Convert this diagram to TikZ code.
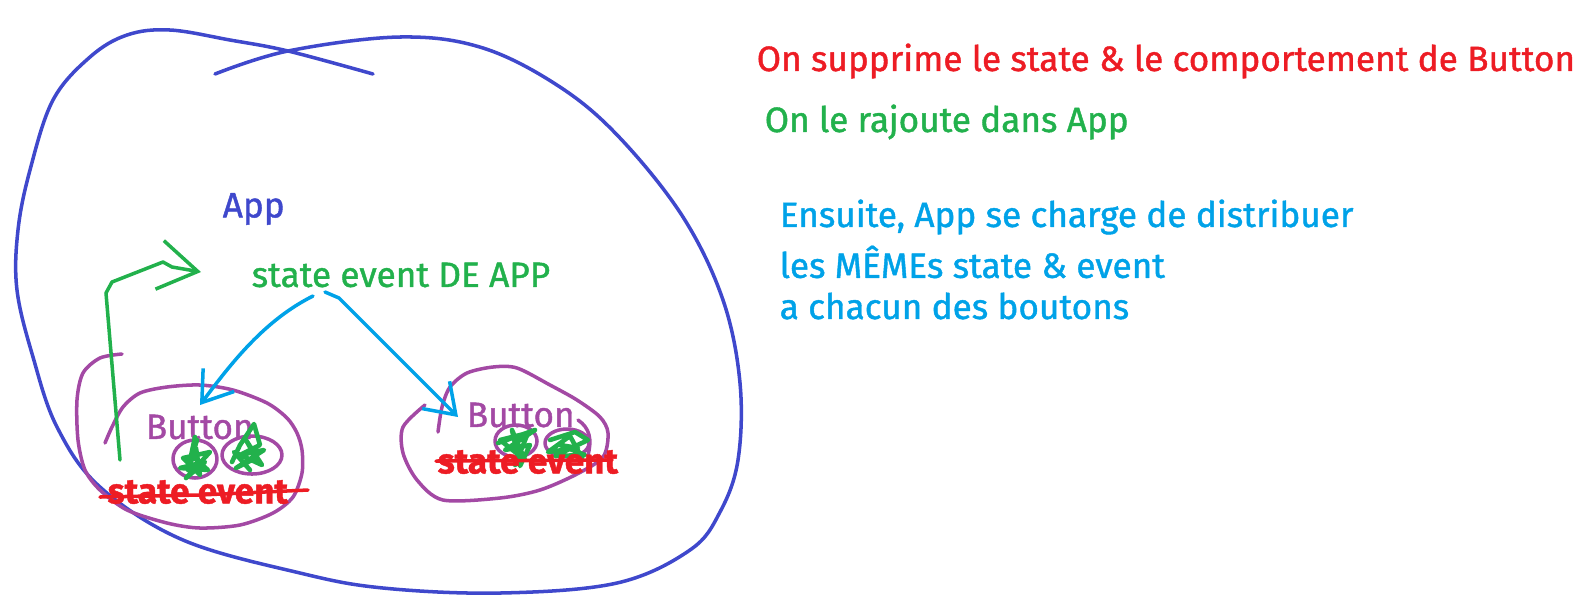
\documentclass[tikz,border=0pt]{standalone}
\usepackage{fontspec}
\setmainfont{Fira Sans}[FakeBold=1.2]
\usetikzlibrary{arrows.meta}
\definecolor{app_blue}{RGB}{63,72,204}
\definecolor{paint_green}{RGB}{34,177,76}
\definecolor{sky_blue}{RGB}{0,162,232}
\definecolor{btn_purple}{RGB}{163,73,164}
\definecolor{paint_red}{RGB}{237,28,36}

\begin{document}
\begin{tikzpicture}[x=0.01cm, y=-0.01cm, line width=1pt, line cap=round, line join=round,
    every node/.style={font=\fontsize{10}{12}\selectfont, inner sep=0pt, anchor=west},
    barb/.style={-{Straight Barb[length=8pt, width=11pt]}}]
  \useasboundingbox (0,0) rectangle (1585,599);
  % App
  \draw[app_blue] plot[smooth, tension=0.6] coordinates {(215,74) (288,51) (400,37) (483,48)
      (560,87) (620,138) (683,217) (723,300) (740,383) (738,460) (720,512) (690,550) (617,583)
      (500,593) (383,588) (300,573) (183,540) (100,487) (57,427) (33,357) (17,290) (18,230)
      (30,170) (53,100) (90,57) (127,35) (170,30) (230,40) (288,51) (373,74)};
  \node[text=app_blue] (app) at (221,209) {App};
  \node[text=paint_green] (sea) at (250,275) {state event DE APP};
  % buttons
  \draw[btn_purple] plot[smooth, tension=0.5] coordinates {(122,354) (100,358) (83,373) (77,400)
      (78,440) (85,470) (100,490) (127,510) (167,523) (200,528) (240,525) (273,513) (293,497)
      (302,473) (302,450) (297,433) (287,418) (267,403) (233,390) (200,385) (167,387) (140,393)
      (123,407) (112,427) (105,443)};
  \draw[btn_purple] plot[smooth, tension=0.5] coordinates {(425,405) (403,427) (403,453) (417,480)
      (443,500) (500,498) (540,490) (577,474) (603,457) (608,433) (600,417) (577,400) (550,385)
      (517,368) (493,367) (467,373) (450,387) (442,407) (438,432)};
  \draw[btn_purple] (578,420) .. controls (590,428) and (592,440) .. (588,455);
  \node[text=btn_purple] (btnl) at (144,427) {Button};
  \node[text=btn_purple] (btnr) at (465,415) {Button};
  \draw[btn_purple] (195,459) ellipse (22 and 19);
  \draw[btn_purple] (252,455) ellipse (30 and 19);
  \draw[btn_purple] (516,441) ellipse (21 and 16);
  \draw[btn_purple] (567,443) ellipse (22 and 14);
  \begin{scope}[paint_green, line width=1.3pt]
    \draw (195,437) -- (188,470) -- (196,448) -- (200,475) -- (183,458) -- (210,452) -- (186,478)
        -- (205,462) -- (180,468) -- (208,470) -- (192,456) -- (197,440);
    \draw (232,462) -- (240,445) -- (254,424) -- (260,445) -- (240,455) -- (264,450) -- (236,468)
        -- (256,458) -- (246,440) -- (262,465) -- (234,452) -- (250,470);
    \draw (498,443) -- (535,430) -- (505,450) -- (530,445) -- (520,466) -- (512,430) -- (525,460)
        -- (500,440) -- (528,433) -- (515,465);
    \draw (550,440) -- (575,432) -- (588,440) -- (555,456) -- (585,455) -- (560,445) -- (578,448)
        -- (548,452) -- (570,436) -- (582,458);
  \end{scope}
  % state event barres
  \node[text=paint_red, font=\fontsize{10}{12}\selectfont\bfseries] (stl) at (106,492) {state event};
  \node[text=paint_red, font=\fontsize{10}{12}\selectfont\bfseries] (str) at (436,462) {state event};
  \draw[paint_red] (100,497) -- (200,495) -- (308,490);
  \draw[paint_red] (436,461) -- (612,460);
  % fleches
  \coordinate (forkl) at (313,296);
  \coordinate (forkr) at (325,292);
  \coordinate (inl) at (200,405);
  \coordinate (inr) at (458,417);
  \coordinate (up) at (120,460);
  \draw[sky_blue, barb] (forkl) .. controls (265,320) and (232,362) .. (inl);
  \draw[sky_blue, barb] (forkr) -- (339,298) -- (inr);
  \draw[paint_green, -{Straight Barb[length=11pt, width=14pt]}]
    (up) -- (106,293) -- (112,282) -- (163,262) -- (172,267) -- (201,272);
  % explications
  \node[text=paint_red] (t1) at (755,61) {On supprime le state \& le comportement de Button};
  \node[text=paint_green] (t2) at (763,122) {On le rajoute dans App};
  \node[text=sky_blue] (t3) at (778,217) {Ensuite, App se charge de distribuer};
  \node[text=sky_blue] (t4) at (778,262) {les MÊMEs state \& event};
  \node[text=sky_blue] (t5) at (778,306) {a chacun des boutons};
\end{tikzpicture}
\end{document}
